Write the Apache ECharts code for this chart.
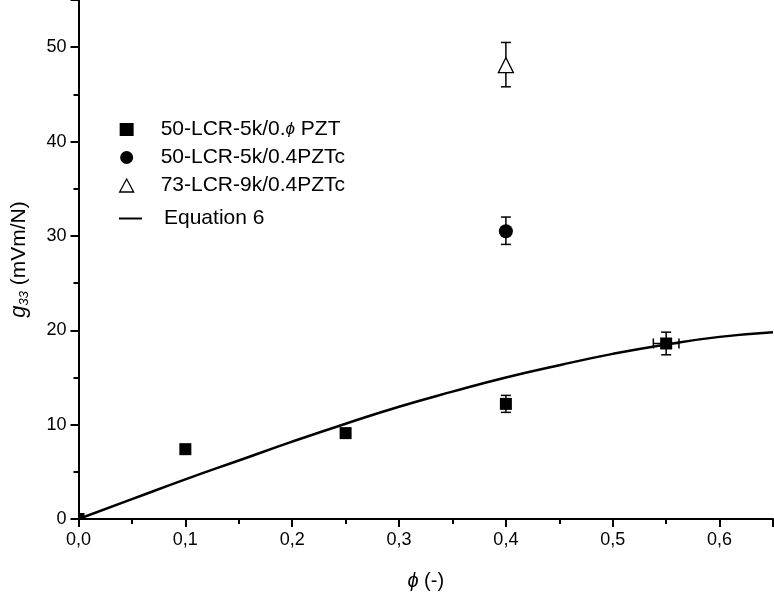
<!DOCTYPE html>
<html>
<head>
<meta charset="utf-8">
<script src="https://cdn.jsdelivr.net/npm/echarts@6/dist/echarts.min.js"></script>
<style>
  html, body { margin: 0; padding: 0; background: #fff; }
  #main { width: 774px; height: 596px; }
</style>
</head>
<body>
<div id="main"></div>
<script>
// datos
var seriesNames = ['50-LCR-5k/0.ϕ PZT', '50-LCR-5k/0.4PZTc', '73-LCR-9k/0.4PZTc', 'Equation 6'];

// 50-LCR-5k/0.phi PZT  [phi, g33]
var pztPoints = [[0, 0], [0.1, 7.4], [0.25, 9.1], [0.4, 12.2], [0.55, 18.6]];
// 50-LCR-5k/0.4PZTc
var pztcPoints = [[0.4, 30.5]];
// 73-LCR-9k/0.4PZTc
var pztc73Points = [[0.4, 48.1]];

// Equation 6 curve
var eqPhi = [0, 0.05, 0.1, 0.15, 0.2, 0.25, 0.3, 0.35, 0.4, 0.45, 0.5, 0.55, 0.6, 0.65];
var eqG33 = [0, 2.1, 4.2, 6.2, 8.2, 10.1, 11.9, 13.5, 15.0, 16.3, 17.5, 18.5, 19.3, 19.8];

// error bars [phi, g33, low, high]
var yErrors = [[0.4, 12.2, 11.3, 13.1], [0.4, 30.5, 29.1, 32.0], [0.4, 48.1, 45.8, 50.5], [0.55, 18.6, 17.4, 19.8]];
// horizontal error bars [phi, g33, phiLow, phiHigh]
var xErrors = [[0.55, 18.6, 0.538, 0.562]];

var chartDom = document.getElementById('main');
var myChart = echarts.init(chartDom);
var option;

var fontMain = 'Liberation Sans, Arial, sans-serif';
var fontNarrow = 'Liberation Sans Narrow, Arial Narrow, Liberation Sans, sans-serif';

function commaFmt(v) {
  return v.toFixed(1).replace('.', ',');
}

function renderYErr(params, api) {
  var x = api.value(0);
  var top = api.coord([x, api.value(3)]);
  var bot = api.coord([x, api.value(2)]);
  var w = 5;
  var st = { stroke: '#000', lineWidth: 1.5 };
  return {
    type: 'group',
    children: [
      { type: 'line', shape: { x1: top[0], y1: top[1], x2: bot[0], y2: bot[1] }, style: st },
      { type: 'line', shape: { x1: top[0] - w, y1: top[1], x2: top[0] + w, y2: top[1] }, style: st },
      { type: 'line', shape: { x1: bot[0] - w, y1: bot[1], x2: bot[0] + w, y2: bot[1] }, style: st }
    ]
  };
}

function renderXErr(params, api) {
  var y = api.value(1);
  var l = api.coord([api.value(2), y]);
  var r = api.coord([api.value(3), y]);
  var h = 5;
  var st = { stroke: '#000', lineWidth: 1.5 };
  return {
    type: 'group',
    children: [
      { type: 'line', shape: { x1: l[0], y1: l[1], x2: r[0], y2: r[1] }, style: st },
      { type: 'line', shape: { x1: l[0], y1: l[1] - h, x2: l[0], y2: l[1] + h }, style: st },
      { type: 'line', shape: { x1: r[0], y1: r[1] - h, x2: r[0], y2: r[1] + h }, style: st }
    ]
  };
}

var legendRich = {
  phi: { fontStyle: 'italic', fontSize: 17, fontFamily: fontMain, color: '#000' }
};

// el punto en el origen queda casi tapado por los ejes
var pztData = pztPoints.map(function (p) {
  if (p[0] === 0 && p[1] === 0) {
    return { value: p, symbolSize: 6, symbolOffset: [3, -3] };
  }
  return p;
});

option = {
  animation: false,
  backgroundColor: '#fff',
  grid: { left: 77, right: 1, top: 0, bottom: 77 },
  legend: [
    {
      orient: 'vertical',
      left: 114,
      top: 114,
      itemWidth: 14,
      itemHeight: 13,
      itemGap: 7,
      textStyle: { fontFamily: fontMain, fontSize: 21, color: '#000', rich: legendRich, padding: [0, 0, 0, 22] },
      formatter: function (name) {
        return name.replace('ϕ', '{phi|ϕ}');
      },
      data: [
        { name: seriesNames[0], icon: 'rect' },
        { name: seriesNames[1], icon: 'circle' },
        { name: seriesNames[2], icon: 'triangle', itemStyle: { color: '#fff', borderColor: '#000', borderWidth: 1.3 } }
      ]
    },
    {
      orient: 'vertical',
      left: 114,
      top: 203,
      itemWidth: 23,
      itemHeight: 2,
      textStyle: { fontFamily: fontMain, fontSize: 21, color: '#000', padding: [0, 0, 0, 17] },
      data: [{ name: seriesNames[3], icon: 'rect' }]
    }
  ],
  xAxis: {
    type: 'value',
    min: 0,
    max: 0.65,
    interval: 0.1,
    name: '{i|ϕ} (-)',
    nameLocation: 'middle',
    nameGap: 52,
    nameTextStyle: {
      fontFamily: fontNarrow,
      fontSize: 20,
      color: '#000',
      rich: { i: { fontStyle: 'italic', fontFamily: fontNarrow, fontSize: 20, color: '#000' } }
    },
    axisLine: { onZero: false, lineStyle: { color: '#000', width: 2 } },
    axisTick: { inside: false, length: 8, lineStyle: { color: '#000', width: 2 } },
    minorTick: { show: true, splitNumber: 2, length: 5, lineStyle: { color: '#000', width: 2 } },
    axisLabel: {
      margin: 12,
      fontFamily: fontNarrow,
      fontSize: 18,
      color: '#000',
      showMaxLabel: false,
      formatter: commaFmt
    },
    splitLine: { show: false }
  },
  yAxis: {
    type: 'value',
    min: 0,
    max: 55,
    interval: 10,
    name: '{g|g}{s|33} (mVm/N)',
    nameLocation: 'middle',
    nameGap: 48,
    nameTextStyle: {
      fontFamily: fontMain,
      fontSize: 21,
      color: '#000',
      rich: {
        g: { fontStyle: 'italic', fontFamily: fontMain, fontSize: 22, color: '#000' },
        s: { fontStyle: 'italic', fontFamily: fontMain, fontSize: 13, color: '#000', verticalAlign: 'bottom', padding: [10, 0, 0, 0] }
      }
    },
    axisLine: { onZero: false, lineStyle: { color: '#000', width: 2 } },
    axisTick: { inside: false, length: 8, lineStyle: { color: '#000', width: 2 } },
    minorTick: { show: true, splitNumber: 2, length: 5, lineStyle: { color: '#000', width: 2 } },
    axisLabel: {
      margin: 12,
      fontFamily: fontMain,
      fontSize: 18,
      color: '#000',
      showMaxLabel: false
    },
    splitLine: { show: false }
  },
  series: [
    {
      name: seriesNames[3],
      type: 'line',
      smooth: true,
      symbol: 'none',
      lineStyle: { color: '#000', width: 2.5 },
      itemStyle: { color: '#000' },
      data: eqPhi.map(function (p, i) { return [p, eqG33[i]]; }),
      z: 2
    },
    {
      type: 'custom',
      renderItem: renderYErr,
      data: yErrors,
      z: 3
    },
    {
      type: 'custom',
      renderItem: renderXErr,
      data: xErrors,
      z: 3
    },
    {
      name: seriesNames[0],
      type: 'scatter',
      symbol: 'rect',
      symbolSize: 12,
      itemStyle: { color: '#000', opacity: 1 },
      data: pztData,
      z: 4
    },
    {
      name: seriesNames[1],
      type: 'scatter',
      symbol: 'circle',
      symbolSize: 14,
      itemStyle: { color: '#000', opacity: 1 },
      data: pztcPoints,
      z: 4
    },
    {
      name: seriesNames[2],
      type: 'scatter',
      symbol: 'triangle',
      symbolSize: 15,
      itemStyle: { color: '#fff', borderColor: '#000', borderWidth: 1.3, opacity: 1 },
      data: pztc73Points,
      z: 4
    }
  ]
};

option && myChart.setOption(option);
</script>
</body>
</html>
